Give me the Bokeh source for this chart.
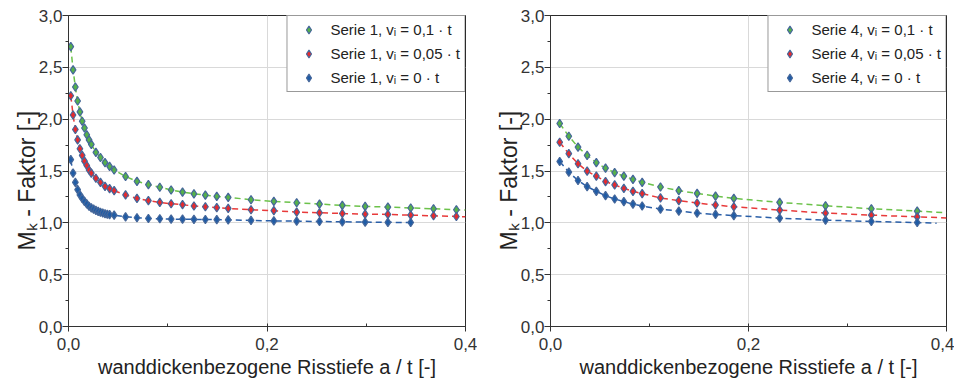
from bokeh.plotting import figure
from bokeh.layouts import row
from bokeh.models import Range1d, SingleIntervalTicker, CustomJSTickFormatter, Legend, LegendItem
from bokeh.embed import file_html
from bokeh.resources import INLINE

# ---------------- data ----------------
x_label = "wanddickenbezogene Risstiefe a / t [-]"
y_label = "M\u2096 - Faktor [-]\u00a0\u00a0\u00a0"

# Serie 1 (left)
s1_x = [0.0023, 0.0046, 0.0069, 0.0092, 0.0115, 0.0138, 0.0161, 0.0184, 0.0207, 0.023,
        0.0276, 0.0322, 0.0368, 0.0414, 0.046,
        0.0575, 0.069, 0.0805, 0.092, 0.1034, 0.1149, 0.1264, 0.1379, 0.1494, 0.1609,
        0.1839, 0.2069, 0.2299, 0.2529, 0.2759, 0.2989, 0.3218, 0.3448, 0.3678, 0.3908]
s1_v010 = [2.70, 2.476, 2.31, 2.175, 2.07, 1.98, 1.915, 1.85, 1.80, 1.757,
           1.68, 1.63, 1.58, 1.544, 1.51,
           1.447, 1.40, 1.369, 1.343, 1.317, 1.296, 1.28, 1.267, 1.255, 1.246,
           1.223, 1.207, 1.194, 1.181, 1.168, 1.158, 1.152, 1.143, 1.136, 1.126]
s1_v005 = [2.226, 2.04, 1.90, 1.80, 1.715, 1.65, 1.595, 1.553, 1.51, 1.48,
           1.43, 1.39, 1.352, 1.33, 1.31,
           1.269, 1.236, 1.214, 1.197, 1.184, 1.175, 1.162, 1.155, 1.146, 1.139,
           1.126, 1.117, 1.104, 1.097, 1.09, 1.084, 1.081, 1.074, 1.068, 1.061]
s1_x0 = [0.0023, 0.0046, 0.0069, 0.0092, 0.0115, 0.0138, 0.0161, 0.0184, 0.0207, 0.023,
         0.0253, 0.0276, 0.0299, 0.0322, 0.0345, 0.0368, 0.0391, 0.0414, 0.046,
         0.0575, 0.069, 0.0805, 0.092, 0.1034, 0.1149, 0.1264, 0.1379, 0.1494, 0.1609,
         0.1839, 0.2069, 0.2299, 0.2529, 0.2759, 0.2989, 0.3218, 0.3448]
s1_v000 = [1.61, 1.48, 1.39, 1.32, 1.27, 1.236, 1.207, 1.183, 1.16, 1.145,
           1.132, 1.12, 1.11, 1.102, 1.095, 1.088, 1.083, 1.079, 1.074,
           1.058, 1.049, 1.042, 1.039, 1.036, 1.035, 1.033, 1.032, 1.031, 1.029,
           1.023, 1.019, 1.016, 1.013, 1.01, 1.007, 1.005, 1.003]
# fit-curve end points (dashed lines continue to these)
s1_fit_end_x = [0.4, 0.4, 0.3448]
s1_fit_end_y = [1.123, 1.059, 1.003]

# Serie 4 (right)
s4_x = [0.0093, 0.0185, 0.0278, 0.037, 0.0463, 0.0556, 0.0648, 0.0741, 0.0833, 0.0926,
        0.1111, 0.1296, 0.1481, 0.1667, 0.1852, 0.2315, 0.2778, 0.3241, 0.3704]
s4_v010 = [1.958, 1.835, 1.731, 1.65, 1.58, 1.527, 1.485, 1.45, 1.42, 1.391,
           1.346, 1.31, 1.284, 1.258, 1.236, 1.197, 1.165, 1.136, 1.113]
s4_v005 = [1.777, 1.667, 1.57, 1.498, 1.45, 1.398, 1.366, 1.333, 1.304, 1.282,
           1.24, 1.214, 1.191, 1.172, 1.155, 1.123, 1.094, 1.074, 1.058]
s4_v000 = [1.592, 1.489, 1.408, 1.35, 1.304, 1.262, 1.23, 1.204, 1.181, 1.162,
           1.133, 1.113, 1.094, 1.081, 1.07, 1.045, 1.026, 1.013, 1.003]
s4_fit_end_x = [0.4, 0.4, 0.39]
s4_fit_end_y = [1.098, 1.047, 0.996]

labels_s1 = ["Serie 1, v\u1d62 = 0,1 \u00b7 t", "Serie 1, v\u1d62 = 0,05 \u00b7 t", "Serie 1, v\u1d62 = 0 \u00b7 t"]
labels_s4 = ["Serie 4, v\u1d62 = 0,1 \u00b7 t", "Serie 4, v\u1d62 = 0,05 \u00b7 t", "Serie 4, v\u1d62 = 0 \u00b7 t"]

fill_colors = ["#55b14a", "#e52a2e", "#1f5ca6"]
line_colors = ["#6cc24a", "#e83a3a", "#2a5fa8"]
edge_color = "#46679a"
FONT = "Liberation Sans"

fmt = CustomJSTickFormatter(code="return tick.toFixed(1).replace('.', ',');")


def make_plot(series, labels, fit_end_x, fit_end_y, width, bl, br):
    p = figure(width=width, height=380, output_backend="svg", toolbar_location=None,
               x_range=Range1d(0, 0.4), y_range=Range1d(0, 3.0),
               min_border_left=bl, min_border_right=br, min_border_top=15, min_border_bottom=10)
    p.outline_line_color = "#2b2b2b"
    p.outline_line_width = 1
    p.background_fill_color = "white"
    p.border_fill_color = "white"

    p.xaxis.ticker = SingleIntervalTicker(interval=0.2, num_minor_ticks=2)
    p.yaxis.ticker = SingleIntervalTicker(interval=0.5, num_minor_ticks=2)
    p.xaxis.formatter = fmt
    p.yaxis.formatter = fmt
    for ax in (p.xaxis[0], p.yaxis[0]):
        ax.axis_line_color = "#333333"
        ax.major_tick_line_color = "#333333"
        ax.minor_tick_line_color = "#333333"
        ax.major_label_text_font = FONT
        ax.major_label_text_font_size = "17px"
        ax.major_label_text_color = "#333333"
        ax.axis_label_text_font = FONT
        ax.axis_label_text_font_style = "normal"
        ax.axis_label_text_color = "#222222"
    p.xaxis.axis_label_text_font_size = "20px"
    p.yaxis.axis_label_text_font_size = "23px"
    p.xaxis.major_tick_out = 5
    p.xaxis.major_tick_in = 0
    p.xaxis.minor_tick_in = 3
    p.xaxis.minor_tick_out = 0
    p.xaxis.major_label_standoff = 6
    p.xaxis.axis_label = x_label
    p.xaxis.axis_label_standoff = 3
    p.yaxis.major_tick_out = 6
    p.yaxis.major_tick_in = 0
    p.yaxis.minor_tick_out = 3
    p.yaxis.minor_tick_in = 0
    p.yaxis.major_label_standoff = 0
    p.yaxis.axis_label = y_label
    p.yaxis.axis_label_standoff = -4

    p.xgrid.grid_line_color = "#d9d9d9"
    p.ygrid.grid_line_color = "#d9d9d9"
    p.xgrid.grid_line_width = 1
    p.ygrid.grid_line_width = 1

    items = []
    for i, (xs, ys) in enumerate(series):
        lx = list(xs)
        ly = list(ys)
        if fit_end_x[i] > lx[-1]:
            lx = lx + [fit_end_x[i]]
            ly = ly + [fit_end_y[i]]
        p.line(lx, ly, line_color=line_colors[i], line_width=1.5, line_dash="6 4")
    for i, (xs, ys) in enumerate(series):
        r = p.scatter(xs, ys, marker="diamond", size=8.5, fill_color=fill_colors[i],
                      line_color=edge_color, line_width=1.2)
        items.append(LegendItem(label=labels[i], renderers=[r]))

    leg = Legend(items=items, location="top_right")
    leg.margin = 0
    leg.padding = 4
    leg.spacing = 5
    leg.glyph_width = 34
    leg.glyph_height = 19
    leg.label_height = 19
    leg.label_standoff = 5
    leg.label_text_font = FONT
    leg.label_text_font_size = "15px"
    leg.label_text_color = "#222222"
    leg.border_line_color = "#333333"
    leg.border_line_width = 1
    leg.background_fill_color = "white"
    leg.background_fill_alpha = 1.0
    p.add_layout(leg)
    return p


p1 = make_plot([(s1_x, s1_v010), (s1_x, s1_v005), (s1_x0, s1_v000)], labels_s1,
               s1_fit_end_x, s1_fit_end_y, width=477, bl=68, br=12)
p2 = make_plot([(s4_x, s4_v010), (s4_x, s4_v005), (s4_x, s4_v000)], labels_s4,
               s4_fit_end_x, s4_fit_end_y, width=477, bl=73, br=8)

layout = row(p1, p2)
open("out.html", "w").write(file_html(layout, INLINE))
